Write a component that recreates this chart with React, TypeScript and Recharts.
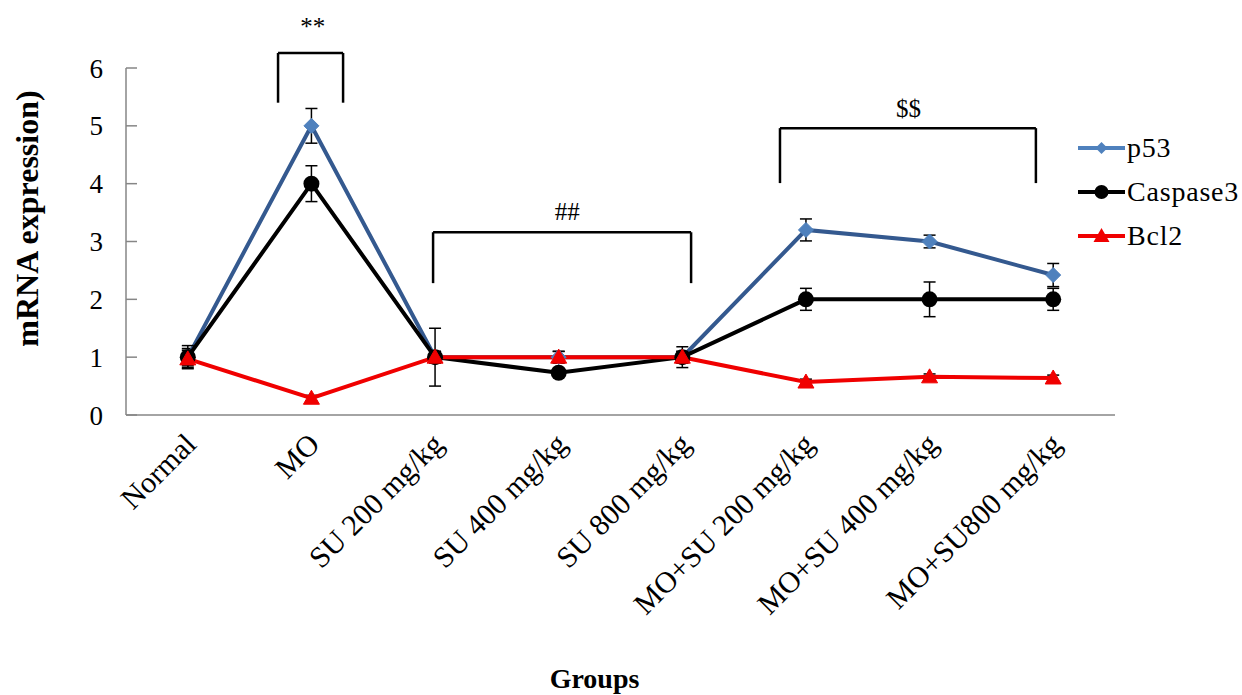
import React from "react"
import { LineChart, Line, XAxis, YAxis, ErrorBar, Legend, Label, ReferenceLine, ReferenceDot } from "recharts"

const groups = [
    "Normal",
    "MO",
    "SU 200 mg/kg",
    "SU 400 mg/kg",
    "SU 800 mg/kg",
    "MO+SU 200 mg/kg",
    "MO+SU 400 mg/kg",
    "MO+SU800 mg/kg",
]
const p53 = [1, 5, 1, 1, 1, 3.2, 3.0, 2.42]
const p53Err = [0.15, 0.3, 0.1, 0.1, 0.1, 0.19, 0.11, 0.2]
const caspase3 = [1, 4, 1, 0.73, 1, 2, 2, 2]
const caspase3Err = [0.2, 0.31, 0.5, 0.05, 0.18, 0.19, 0.3, 0.19]
const bcl2 = [0.97, 0.29, 1, 1, 1, 0.57, 0.66, 0.64]
const bcl2Err = [0.15, 0.05, 0.1, 0.1, 0.1, 0.05, 0.05, 0.05]
const yTicks = [0, 1, 2, 3, 4, 5, 6]
const legendOrder = ["p53", "caspase3", "bcl2"]

// significance brackets: x in group-index units (0 = Normal), y in expression units
const brackets = [
    { mark: "**", from: 0.73, to: 1.256, top: 6.26, bottom: 5.4, textX: 1.01, textY: 6.72 },
    { mark: "##", from: 1.984, to: 4.071, top: 3.16, bottom: 2.28, textX: 3.07, textY: 3.52 },
    { mark: "$$", from: 4.79, to: 6.86, top: 4.96, bottom: 4.01, textX: 5.83, textY: 5.3 },
]

const data = groups.map((g, i) => ({
    group: g,
    pos: i,
    p53: p53[i],
    p53Err: p53Err[i],
    caspase3: caspase3[i],
    caspase3Err: caspase3Err[i],
    bcl2: bcl2[i],
    bcl2Err: bcl2Err[i],
}))

const serif = "'Liberation Serif', 'Times New Roman', serif"
const BLUE_LINE = "#34598f"
const BLUE_DOT = "#4f81bd"
const RED = "#f00000"
const PAD = { left: 61.8, right: 61.8 }

const diamond = (cx: number, cy: number, s: number) =>
    `${cx},${cy - s} ${cx + s},${cy} ${cx},${cy + s} ${cx - s},${cy}`
const triangle = (cx: number, cy: number, s: number) =>
    `${cx},${cy - s} ${cx + s},${cy + s * 0.75} ${cx - s},${cy + s * 0.75}`

const DiamondDot = (props: any) => {
    const { cx, cy, index } = props
    if (cx == null || cy == null) return <g key={index} />
    return <polygon key={index} points={diamond(cx, cy, 7.5)} fill={BLUE_DOT} stroke={BLUE_DOT} />
}
const CircleDot = (props: any) => {
    const { cx, cy, index } = props
    if (cx == null || cy == null) return <g key={index} />
    return <circle key={index} cx={cx} cy={cy} r={8} fill="#000" />
}
const TriangleDot = (props: any) => {
    const { cx, cy, index } = props
    if (cx == null || cy == null) return <g key={index} />
    return <polygon key={index} points={triangle(cx, cy, 8)} fill={RED} stroke={RED} />
}

const GroupTick = (props: any) => {
    const { x, y, payload } = props
    const ax = x + 10
    const ay = y + 23
    return (
        <text x={ax} y={ay} textAnchor="end" transform={`rotate(-45 ${ax} ${ay})`}
            fontFamily={serif} fontSize={30} fill="#000">
            {payload.value}
        </text>
    )
}

const legendMarker = (key: string, cx: number, cy: number) => {
    if (key === "p53") return <polygon points={diamond(cx, cy, 6)} fill={BLUE_DOT} />
    if (key === "caspase3") return <circle cx={cx} cy={cy} r={7} fill="#000" />
    return <polygon points={triangle(cx, cy, 8)} fill={RED} />
}

const renderLegend = ({ payload }: any) => {
    const items = [...(payload || [])].sort(
        (a: any, b: any) => legendOrder.indexOf(a.dataKey) - legendOrder.indexOf(b.dataKey))
    return (
        <svg width={172} height={140}>
            {items.map((entry: any, i: number) => {
                const cy = 22 + i * 44
                return (
                    <g key={entry.value}>
                        <line x1={8} y1={cy} x2={55} y2={cy}
                            stroke={entry.dataKey === "p53" ? BLUE_DOT : entry.color} strokeWidth={4} />
                        {legendMarker(entry.dataKey, 31.5, cy)}
                        <text x={57} y={cy + 9} fontFamily={serif} fontSize={28} letterSpacing={0.8} fill="#000">
                            {entry.value}
                        </text>
                    </g>
                )
            })}
        </svg>
    )
}

const App = () => {
    return (
        <div style={{ position: "fixed", left: 0, top: 0, width: 1242, height: 695, background: "#fff" }}>
            <LineChart width={1242} height={695} data={data}
                margin={{ top: 68, right: 127, bottom: 10, left: 10 }}>
                <XAxis dataKey="group" interval={0} height={270} padding={PAD}
                    axisLine={{ stroke: "#868686", strokeWidth: 1.5 }} tickLine={false} tick={<GroupTick />}>
                    <Label value="Groups" position="insideBottom" offset={-3} dx={-26}
                        style={{ fontFamily: serif, fontSize: 28, fontWeight: "bold", fill: "#000" }} />
                </XAxis>
                <XAxis xAxisId="ann" dataKey="pos" type="number" domain={[0, 7]} padding={PAD}
                    allowDataOverflow hide />
                <YAxis domain={[0, 6]} ticks={yTicks} interval={0} width={116}
                    axisLine={{ stroke: "#868686", strokeWidth: 1.5 }} tickLine={{ stroke: "#868686", strokeWidth: 1.5 }}
                    tickSize={-11} tickMargin={34}
                    tick={{ fill: "#000", fontSize: 27, fontFamily: serif }}>
                    <Label value="mRNA expression)" angle={-90} position="insideLeft" offset={17} dy={-23}
                        textAnchor="middle"
                        style={{ fontFamily: serif, fontSize: 32, fontWeight: "bold", fill: "#000" }} />
                </YAxis>
                <Legend layout="vertical" align="center" verticalAlign="middle" content={renderLegend}
                    wrapperStyle={{ top: 126, left: 1070, width: 172, height: 140 }} />

                {brackets.map((b) => (
                    <ReferenceLine key={b.mark + "l"} xAxisId="ann" ifOverflow="visible" stroke="#000" strokeWidth={2.5}
                        segment={[{ x: b.from, y: b.bottom }, { x: b.from, y: b.top }]} />
                ))}
                {brackets.map((b) => (
                    <ReferenceLine key={b.mark + "t"} xAxisId="ann" ifOverflow="visible" stroke="#000" strokeWidth={2.5}
                        segment={[{ x: b.from, y: b.top }, { x: b.to, y: b.top }]} />
                ))}
                {brackets.map((b) => (
                    <ReferenceLine key={b.mark + "r"} xAxisId="ann" ifOverflow="visible" stroke="#000" strokeWidth={2.5}
                        segment={[{ x: b.to, y: b.top }, { x: b.to, y: b.bottom }]} />
                ))}
                {brackets.map((b) => (
                    <ReferenceDot key={b.mark + "m"} xAxisId="ann" ifOverflow="visible" r={0}
                        x={b.textX} y={b.textY} fill="none" stroke="none"
                        label={{ value: b.mark, position: "center", fontSize: 25, fontFamily: serif, fill: "#000" }} />
                ))}

                <Line name="p53" dataKey="p53" stroke={BLUE_LINE} strokeWidth={4} dot={DiamondDot}
                    activeDot={false} isAnimationActive={false}>
                    <ErrorBar dataKey="p53Err" stroke="#000" strokeWidth={1.5} width={6} />
                </Line>
                <Line name="Caspase3" dataKey="caspase3" stroke="#000" strokeWidth={4} dot={CircleDot}
                    activeDot={false} isAnimationActive={false}>
                    <ErrorBar dataKey="caspase3Err" stroke="#000" strokeWidth={1.5} width={6} />
                </Line>
                <Line name="Bcl2" dataKey="bcl2" stroke={RED} strokeWidth={4} dot={TriangleDot}
                    activeDot={false} isAnimationActive={false}>
                    <ErrorBar dataKey="bcl2Err" stroke="#000" strokeWidth={1.5} width={6} />
                </Line>
            </LineChart>
        </div>
    )
}

export default App
